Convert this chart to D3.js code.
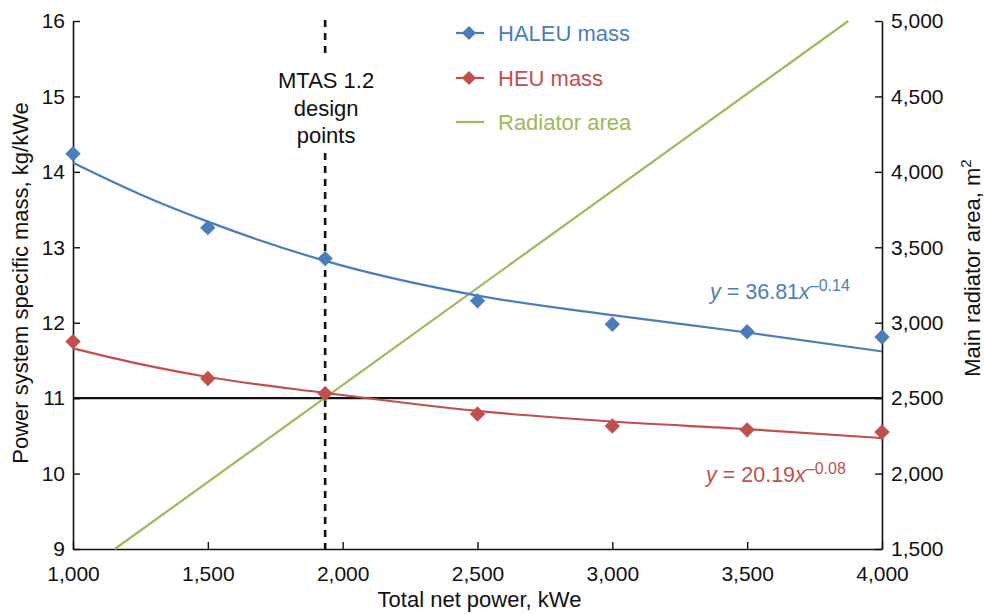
<!DOCTYPE html>
<html><head><meta charset="utf-8">
<script src="https://cdn.jsdelivr.net/npm/d3@7"></script>
<style>
body{margin:0;background:#fff;}
text{font-family:"Liberation Sans",Arial,sans-serif;}
</style></head>
<body><svg id="c" width="984" height="614"></svg>
<script>
// Data
const powerPoints = [1000, 1500, 1935, 2500, 3000, 3500, 4000];
const haleuMass = [14.24, 13.26, 12.85, 12.29, 11.98, 11.88, 11.81];
const heuMass = [11.75, 11.26, 11.06, 10.79, 10.63, 10.58, 10.55];
const fitPower = [1000, 1250, 1500, 1935, 2500, 3000, 3500, 4000];
const haleuFit = [14.12, 13.70, 13.34, 12.82, 12.36, 12.10, 11.87, 11.62];
const heuFit = [11.66, 11.45, 11.28, 11.07, 10.83, 10.69, 10.59, 10.47];
const radiatorPower = [1155, 3875];
const radiatorArea = [1500, 5000];
const xTicks = [1000, 1500, 2000, 2500, 3000, 3500, 4000];
const yLeftTicks = [9, 10, 11, 12, 13, 14, 15, 16];
const yRightTicks = [1500, 2000, 2500, 3000, 3500, 4000, 4500, 5000];
const designPower = 1935;
const refLine = 11;

const svg = d3.select("#c");
const L = 73, R = 882, T = 21, B = 549;
const x = d3.scaleLinear().domain([1000, 4000]).range([L, R]);
const yl = d3.scaleLinear().domain([9, 16]).range([B, T]);
const yr = d3.scaleLinear().domain([1500, 5000]).range([B, T]);
const fmt = d3.format(",");
const blue = "#4a7ebb", red = "#c0504d", green = "#9bbb59";
const FS = 22;

// axes
const axB = svg.append("g").attr("transform", `translate(0,${B})`)
  .call(d3.axisTop(x).tickValues(xTicks).tickFormat(fmt).tickSizeInner(7).tickSizeOuter(0));
axB.selectAll("text").attr("y", 25).attr("dy", "0.35em");
const axL = svg.append("g").attr("transform", `translate(${L},0)`)
  .call(d3.axisRight(yl).tickValues(yLeftTicks).tickFormat(d3.format("d")).tickSizeInner(7).tickSizeOuter(0));
axL.selectAll("text").attr("x", -8).attr("text-anchor", "end");
const axR = svg.append("g").attr("transform", `translate(${R},0)`)
  .call(d3.axisLeft(yr).tickValues(yRightTicks).tickFormat(fmt).tickSizeInner(7).tickSizeOuter(0));
axR.selectAll("text").attr("x", 9).attr("text-anchor", "start");
svg.selectAll("g").attr("font-size", 21).attr("font-family", "Liberation Sans, Arial, sans-serif");
svg.selectAll(".tick text").attr("fill", "#111");
svg.selectAll(".domain").attr("stroke", "#111").attr("stroke-width", 1.6);
svg.selectAll(".tick line").attr("stroke", "#111").attr("stroke-width", 1.4);

// axis titles
svg.append("text").attr("x", x(2500) + 2).attr("y", 607).attr("text-anchor", "middle")
  .attr("font-size", FS).attr("fill", "#111").text("Total net power, kWe");
svg.append("text").attr("transform", "translate(28,283) rotate(-90)").attr("text-anchor", "middle")
  .attr("font-size", FS).attr("fill", "#111").text("Power system specific mass, kg/kWe");
const rt = svg.append("text").attr("transform", "translate(980,268) rotate(-90)").attr("text-anchor", "middle")
  .attr("font-size", FS).attr("fill", "#111");
rt.append("tspan").text("Main radiator area, m");
rt.append("tspan").attr("font-size", 15).attr("dy", -9).text("2");

// reference horizontal line
svg.append("line").attr("x1", L).attr("x2", R).attr("y1", yl(refLine)).attr("y2", yl(refLine))
  .attr("stroke", "#111").attr("stroke-width", 2.2);

// design point dashed line
const dash = svg.append("g").attr("stroke", "#111").attr("stroke-width", 2.6).attr("stroke-dasharray", "7,6");
dash.append("line").attr("x1", x(designPower)).attr("x2", x(designPower)).attr("y1", 20).attr("y2", 58);
dash.append("line").attr("x1", x(designPower)).attr("x2", x(designPower)).attr("y1", 153).attr("y2", B);
const lbl = svg.append("text").attr("text-anchor", "middle").attr("font-size", FS).attr("fill", "#111");
["MTAS 1.2", "design", "points"].forEach((t, i) =>
  lbl.append("tspan").attr("x", x(designPower) + 1).attr("y", 88 + i * 27.5).text(t));

// radiator line
const radData = radiatorPower.map((p, i) => [p, radiatorArea[i]]);
svg.append("path").datum(radData).attr("fill", "none").attr("stroke", green).attr("stroke-width", 2.2)
  .attr("d", d3.line().x(d => x(d[0])).y(d => yr(d[1])));

// fits
const fitLine = d3.line().x(d => x(d[0])).y(d => yl(d[1])).curve(d3.curveMonotoneX);
svg.append("path").datum(fitPower.map((p, i) => [p, haleuFit[i]])).attr("fill", "none")
  .attr("stroke", blue).attr("stroke-width", 2.2).attr("d", fitLine);
svg.append("path").datum(fitPower.map((p, i) => [p, heuFit[i]])).attr("fill", "none")
  .attr("stroke", red).attr("stroke-width", 2.2).attr("d", fitLine);

// diamonds
const sym = d3.symbol().type(d3.symbolSquare).size(118);
function diamonds(vals, col) {
  svg.append("g").selectAll("path").data(powerPoints.map((p, i) => [p, vals[i]])).join("path")
    .attr("d", sym).attr("fill", col)
    .attr("transform", d => `translate(${x(d[0])},${yl(d[1])}) rotate(45)`);
}
diamonds(haleuMass, blue);
diamonds(heuMass, red);

// equations
function eq(xp, yp, coef, exp, col) {
  const t = svg.append("text").attr("x", xp).attr("y", yp).attr("font-size", 21.5).attr("fill", col);
  t.append("tspan").attr("font-style", "italic").text("y");
  t.append("tspan").text(" = " + coef);
  t.append("tspan").attr("font-style", "italic").text("x");
  t.append("tspan").attr("font-size", 16).attr("dy", -8).text(exp);
}
eq(710, 299, "36.81", "\u20130.14", blue);
eq(706, 482, "20.19", "\u20130.08", red);

// legend
const leg = [
  {name: "HALEU mass", col: blue, y: 33, marker: true},
  {name: "HEU mass", col: red, y: 78, marker: true},
  {name: "Radiator area", col: green, y: 122, marker: false}
];
leg.forEach(d => {
  svg.append("line").attr("x1", 456).attr("x2", 484).attr("y1", d.y).attr("y2", d.y)
    .attr("stroke", d.col).attr("stroke-width", 2.2);
  if (d.marker) svg.append("path").attr("d", d3.symbol().type(d3.symbolSquare).size(100))
    .attr("fill", d.col).attr("transform", `translate(469,${d.y}) rotate(45)`);
  svg.append("text").attr("x", 498).attr("y", d.y).attr("dy", "0.35em").attr("font-size", FS)
    .attr("fill", d.col).text(d.name);
});
</script></body></html>
